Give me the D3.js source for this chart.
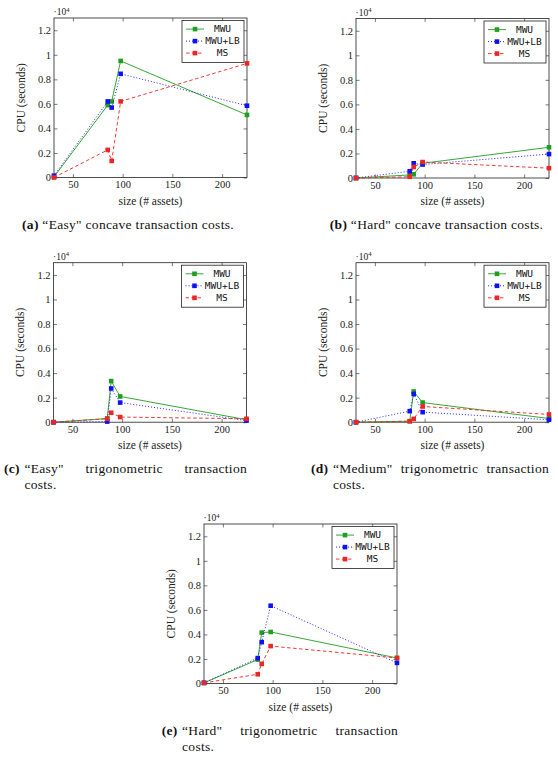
<html lang="en">
  <head>
    <meta charset="UTF-8" />
    <title>CPU time vs size</title>
    <style>
      body {
        margin: 0;
        background: white;
      }
      svg {
        display: block;
      }
      .tick text {
        font-family: "Liberation Serif", serif;
        font-size: 10.5px;
        fill: #222;
      }
      .tick line {
        stroke: #444;
        stroke-width: 0.7;
      }
      .legend text {
        font-family: "DejaVu Sans Mono", monospace;
        font-size: 9.5px;
        fill: #111;
      }
      .lbl {
        font-family: "Liberation Serif", serif;
        font-size: 11.5px;
        fill: #222;
      }
      .cap {
        font-family: "Liberation Serif", serif;
        font-size: 13.5px;
        letter-spacing: 0.3px;
        fill: #111;
      }
    </style>
  </head>
  <body>
    <script src="https://cdn.jsdelivr.net/npm/d3@7"></script>
    <script>
      // x values: number of assets in each instance
      const sizes = [31, 85, 89, 98, 225];
      const seriesNames = ["MWU", "MWU+LB", "MS"];
      const xTicks = [50, 100, 150, 200];
      const yTicks = [0, 0.2, 0.4, 0.6, 0.8, 1, 1.2];
      const yTickLabels = ["0", "0.2", "0.4", "0.6", "0.8", "1", "1.2"];

      // CPU seconds, in units of 10^4
      const aMWU = [0.005, 0.59, 0.62, 0.95, 0.51];
      const aMWULB = [0.015, 0.62, 0.57, 0.845, 0.585];
      const aMS = [0.0, 0.225, 0.135, 0.62, 0.93];

      const bMWU = [0.0, 0.025, 0.03, 0.12, 0.25];
      const bMWULB = [0.0, 0.055, 0.12, 0.11, 0.195];
      const bMS = [0.0, 0.01, 0.09, 0.13, 0.08];

      const cMWU = [0.0, 0.03, 0.335, 0.21, 0.02];
      const cMWULB = [0.0, 0.005, 0.275, 0.16, 0.013];
      const cMS = [0.0, 0.028, 0.077, 0.042, 0.028];

      const dMWU = [0.0, 0.008, 0.25, 0.16, 0.03];
      const dMWULB = [0.0, 0.09, 0.23, 0.082, 0.02];
      const dMS = [0.0, 0.008, 0.027, 0.128, 0.063];

      const eMWU = [0.005, 0.195, 0.415, 0.42, 0.208];
      const eMWULB = [0.005, 0.207, 0.337, 0.634, 0.168];
      const eMS = [0.005, 0.075, 0.16, 0.305, 0.208];

      const captionLabels = ["(a)", "(b)", "(c)", "(d)", "(e)"];
      const captionLine1 = [
        "“Easy\" concave transaction costs.",
        "“Hard\" concave transaction costs.",
        "“Easy\" trigonometric transaction",
        "“Medium\" trigonometric transaction",
        "“Hard\" trigonometric transaction"
      ];
      const captionLine2 = ["", "", "costs.", "costs.", "costs."];

      const panelData = [
        [aMWU, aMWULB, aMS],
        [bMWU, bMWULB, bMS],
        [cMWU, cMWULB, cMS],
        [dMWU, dMWULB, dMS],
        [eMWU, eMWULB, eMS]
      ];

      // layout (pixels)
      const W = 558, H = 762;
      const plotW = 193, plotH = 159.5;
      const panels = [
        { left: 54, top: 18, capL: 14, capR: 242, capY: 229 },
        { left: 356, top: 18.5, capL: 325, capR: 548, capY: 229 },
        { left: 53.5, top: 262.7, capL: 4, capR: 247, capY: 472.7 },
        { left: 356, top: 262.7, capL: 311, capR: 549, capY: 472.7 },
        { left: 204, top: 524, capL: 161.7, capR: 398, capY: 734.7 }
      ];
      const colors = ["#1f9e1f", "#1010f5", "#ee2525"];
      const dashes = [null, "1,2", "3.5,2.5"];

      const svg = d3
        .select("body")
        .append("svg")
        .attr("width", W)
        .attr("height", H);

      const x = d3.scaleLinear().domain([31, 225]).range([0, plotW]);
      const y = d3.scaleLinear().domain([0, 1.3]).range([plotH, 0]);

      panels.forEach((p, pi) => {
        const g = svg
          .append("g")
          .attr("transform", "translate(" + p.left + "," + p.top + ")");

        // axes, ticks pointing inward on all four sides
        g.append("g")
          .attr("transform", "translate(0," + plotH + ")")
          .call(
            d3.axisBottom(x).tickValues(xTicks).tickSizeInner(-3.5).tickSizeOuter(0).tickPadding(3.5)
          );
        g.append("g").call(
          d3.axisTop(x).tickValues(xTicks).tickSizeInner(-3.5).tickSizeOuter(0).tickFormat("")
        );
        g.append("g").call(
          d3
            .axisLeft(y)
            .tickValues(yTicks)
            .tickSizeInner(-3.5)
            .tickSizeOuter(0)
            .tickPadding(3)
            .tickFormat((d, i) => yTickLabels[i])
        );
        g.append("g")
          .attr("transform", "translate(" + plotW + ",0)")
          .call(
            d3.axisRight(y).tickValues(yTicks).tickSizeInner(-3.5).tickSizeOuter(0).tickFormat("")
          );
        g.selectAll(".domain").remove();

        g.append("rect")
          .attr("width", plotW)
          .attr("height", plotH)
          .attr("fill", "none")
          .attr("stroke", "#222")
          .attr("stroke-width", 0.8);

        // ·10^4 multiplier
        const mult = g.append("text").attr("class", "lbl").attr("x", -0.5).attr("y", -3).style("font-size", "9.5px");
        mult.append("tspan").text("·10");
        mult.append("tspan").attr("dy", -3.5).style("font-size", "6.5px").text("4");

        g.append("text")
          .attr("class", "lbl")
          .attr("x", plotW / 2)
          .attr("y", plotH + 27)
          .attr("text-anchor", "middle")
          .text("size (# assets)");

        g.append("text")
          .attr("class", "lbl")
          .attr("transform", "translate(-29.5," + plotH / 2 + ") rotate(-90)")
          .attr("text-anchor", "middle")
          .text("CPU (seconds)");

        const line = d3
          .line()
          .x((d, i) => x(sizes[i]))
          .y(d => y(d));

        panelData[pi].forEach((vals, si) => {
          g.append("path")
            .datum(vals)
            .attr("d", line)
            .attr("fill", "none")
            .attr("stroke", colors[si])
            .attr("stroke-width", 0.9)
            .attr("stroke-dasharray", dashes[si]);
          g.selectAll(".m" + si)
            .data(vals)
            .enter()
            .append("rect")
            .attr("x", (d, i) => x(sizes[i]) - 2.3)
            .attr("y", d => y(d) - 2.3)
            .attr("width", 4.6)
            .attr("height", 4.6)
            .attr("fill", colors[si]);
        });

        // legend
        const lw = 62, lh = 42;
        const leg = g
          .append("g")
          .attr("class", "legend")
          .attr("transform", "translate(" + (plotW - lw - 3) + ",2.5)");
        leg.append("rect")
          .attr("width", lw)
          .attr("height", lh)
          .attr("fill", "white")
          .attr("stroke", "#222")
          .attr("stroke-width", 0.8);
        seriesNames.forEach((name, si) => {
          const ry = 8.6 + si * 12;
          leg.append("line")
            .attr("x1", 4)
            .attr("x2", 22)
            .attr("y1", ry)
            .attr("y2", ry)
            .attr("stroke", colors[si])
            .attr("stroke-width", 0.9)
            .attr("stroke-dasharray", dashes[si]);
          leg.append("rect")
            .attr("x", 13 - 2.3)
            .attr("y", ry - 2.3)
            .attr("width", 4.6)
            .attr("height", 4.6)
            .attr("fill", colors[si]);
          leg.append("text")
            .attr("x", 40.5)
            .attr("y", ry + 3.3)
            .attr("text-anchor", "middle")
            .text(name);
        });

        // caption
        const cap = svg.append("g");
        if (!captionLine2[pi]) {
          const t = cap
            .append("text")
            .attr("class", "cap")
            .attr("x", (p.capL + p.capR) / 2)
            .attr("y", p.capY)
            .attr("text-anchor", "middle");
          t.append("tspan").style("font-weight", "bold").text(captionLabels[pi]);
          t.append("tspan").text(" " + captionLine1[pi]);
        } else {
          const lab = cap
            .append("text")
            .attr("class", "cap")
            .attr("x", p.capL)
            .attr("y", p.capY)
            .style("font-weight", "bold")
            .text(captionLabels[pi]);
          const hang = p.capL + lab.node().getComputedTextLength() + 4.5;
          const words = captionLine1[pi].split(" ");
          const nodes = words.map(w =>
            cap.append("text").attr("class", "cap").attr("y", p.capY).text(w)
          );
          const widths = nodes.map(n => n.node().getComputedTextLength());
          const gap = (p.capR - hang - d3.sum(widths)) / (words.length - 1);
          let cx = hang;
          nodes.forEach((n, i) => {
            n.attr("x", cx);
            cx += widths[i] + gap;
          });
          cap.append("text")
            .attr("class", "cap")
            .attr("x", hang)
            .attr("y", p.capY + 16)
            .text(captionLine2[pi]);
        }
      });
    </script>
  </body>
</html>
